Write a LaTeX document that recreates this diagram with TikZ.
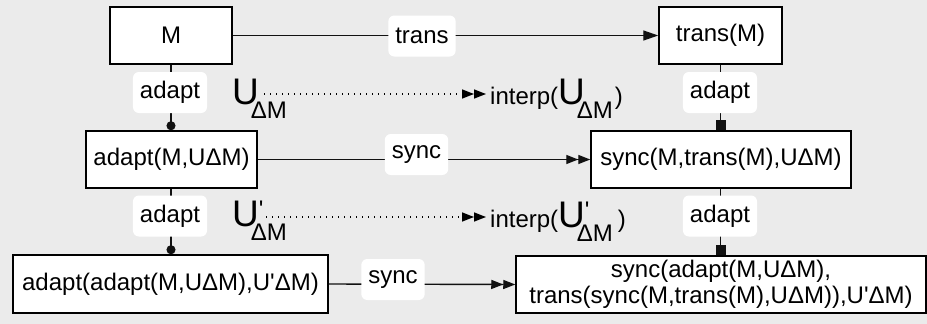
\documentclass[tikz,border=0pt]{standalone}
\usepackage{fontspec}
\newfontfamily\lf{Liberation Sans}
\usetikzlibrary{arrows.meta}
\definecolor{bgc}{HTML}{EBEBEB}
\definecolor{linec}{HTML}{111111}
\newcommand\bigU{{\fontsize{37}{37}\selectfont U}}
\begin{document}
\begin{tikzpicture}[x=1pt,y=-1pt,
  font=\lf\fontsize{24}{26}\selectfont,
  box/.style={draw=black,line width=1.5pt,fill=white,minimum height=57pt,inner sep=0pt,align=center},
  lbl/.style={fill=white,rounded corners=6pt,minimum height=41pt,inner xsep=7pt,inner ysep=0pt},
  conn/.style={draw=linec,line width=1.4pt},
  onetip/.style={-{Triangle[length=15pt,width=10pt]}},
  twotip/.style={-{Triangle[length=12pt,width=9pt,sep=0pt]Triangle[length=12pt,width=9pt]}},
  dotarrow/.style={draw=black,line width=1.4pt,dash pattern=on 1.4pt off 4.6pt},
  free/.style={inner sep=0pt,anchor=base west}]
\fill[bgc] (0,0) rectangle (927,324);
\useasboundingbox (0,0) rectangle (927,324);
% boxes
\node[box,minimum width=122pt] (M) at (171,35.5) {M};
\node[box,minimum width=123pt] (TM) at (720.5,35.5) {trans(M)};
\node[box,minimum width=171pt] (A1) at (171.5,159.5) {adapt(M,UΔM)};
\node[box,minimum width=260pt] (S1) at (721,159.5) {sync(M,trans(M),UΔM)};
\node[box,minimum width=315pt,minimum height=58pt] (A2) at (170.5,284) {adapt(adapt(M,UΔM),U'ΔM)};
\node[box,minimum width=410pt] (S2) at (721,284.5) {sync(adapt(M,UΔM),\\trans(sync(M,trans(M),UΔM)),U'ΔM)};
% connectors
\draw[conn,onetip] (M.east) -- (TM.west);
\draw[conn,twotip] (A1.east) -- (S1.west);
\draw[conn,twotip] (A2.east) -- (S2.west);
\draw[conn,-{Circle[length=9pt]}] (M.south) -- (A1.north -| M.south);
\draw[conn,-{Circle[length=9pt]}] (A1.south -| M.south) -- (A2.north -| M.south);
\draw[conn,-{Square[length=10pt,width=10pt]}] (TM.south) -- (S1.north -| TM.south);
\draw[conn,-{Square[length=10pt,width=10pt]}] (S1.south -| TM.south) -- (S2.north -| TM.south);
% labels
\node[lbl] (ltrans) at (422,36) {trans};
\node[lbl] (lad1) at (170,92.5) {adapt};
\node[lbl] (lad2) at (720,92.5) {adapt};
\node[lbl] (lsync1) at (416.5,154.5) {sync};
\node[lbl] (lad3) at (170,216) {adapt};
\node[lbl] (lad4) at (720,216) {adapt};
\node[lbl] (lsync2) at (393,279.5) {sync};
% U labels and interp
\node[free] (u1) at (232,104) {\bigU\hspace{-8pt}\raisebox{-14pt}{ΔM}};
\node[free] (i1) at (490,104) {interp(\bigU\hspace{-8pt}\raisebox{-14pt}{ΔM}\kern2pt)};
\node[free] (u2) at (232,226) {\bigU\rlap{\raisebox{9pt}{'}}\hspace{-8pt}\raisebox{-14pt}{ΔM}};
\node[free] (i2) at (490,227) {interp(\bigU\rlap{\raisebox{9pt}{'}}\hspace{-8pt}\raisebox{-14pt}{ΔM}\kern5pt)};
\coordinate (d1s) at (264,94);
\coordinate (d1e) at (486,94);
\coordinate (d2s) at (266,217);
\coordinate (d2e) at (486,217);
\draw[dotarrow,twotip] (d1s) -- (d1e);
\draw[dotarrow,twotip] (d2s) -- (d2e);
\end{tikzpicture}
\end{document}
